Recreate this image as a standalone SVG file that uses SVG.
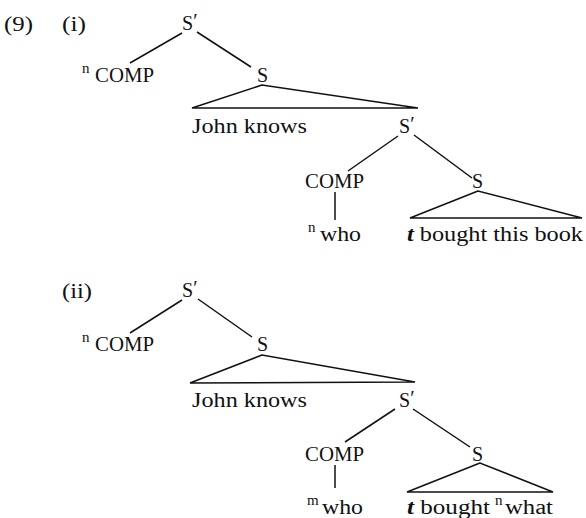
<svg xmlns="http://www.w3.org/2000/svg" width="586" height="518" viewBox="0 0 586 518">
<style>
text{font-family:"Liberation Serif","DejaVu Serif",serif;font-size:20px;fill:#111}
.sup{font-size:15px}
.edges line,.edges polygon{stroke:#111;stroke-width:1.5;fill:none;stroke-linejoin:miter}
</style>
<rect width="586" height="518" fill="#fff"/>
<g id="labels">
<text x="4" y="31" textLength="29" lengthAdjust="spacingAndGlyphs">(9)</text>
<text x="62" y="31" textLength="24" lengthAdjust="spacingAndGlyphs">(i)</text>
<text x="62" y="298" textLength="30" lengthAdjust="spacingAndGlyphs">(ii)</text>
</g>
<g class="edges" id="connectors">
<line x1="182" y1="33" x2="130" y2="63"/>
<line x1="197" y1="32" x2="251" y2="67"/>
<polygon points="262,85 192,108 418,108"/>
<line x1="398" y1="136" x2="348" y2="171"/>
<line x1="414" y1="135" x2="472" y2="178"/>
<line x1="335" y1="192" x2="335" y2="220"/>
<polygon points="478,191 410,218 582,218"/>
<line x1="182" y1="300" x2="130" y2="333"/>
<line x1="198" y1="299" x2="252" y2="337"/>
<polygon points="262,355 190,383 415,382"/>
<line x1="395" y1="409" x2="345" y2="442"/>
<line x1="413" y1="409" x2="470" y2="447"/>
<line x1="335" y1="465" x2="335" y2="488"/>
<polygon points="480,463 407,492 553,492"/>
</g>
<g id="t1-Sbar"><text x="182" y="30">S<tspan dy="-2">′</tspan></text></g>
<g id="t1-COMP"><text class="sup" x="82" y="73">n</text><text x="95" y="82" textLength="59" lengthAdjust="spacingAndGlyphs">COMP</text></g>
<g id="t1-S"><text x="257" y="82">S</text></g>
<g id="t1-John"><text x="192" y="133" textLength="115" lengthAdjust="spacingAndGlyphs">John knows</text></g>
<g id="t1-Sbar2"><text x="399" y="133">S<tspan dy="-2">′</tspan></text></g>
<g id="t1-COMP2"><text x="305" y="188" textLength="59" lengthAdjust="spacingAndGlyphs">COMP</text></g>
<g id="t1-S2"><text x="472" y="188">S</text></g>
<g id="t1-who"><text class="sup" x="308" y="232">n</text><text x="320" y="241" textLength="41" lengthAdjust="spacingAndGlyphs">who</text></g>
<g id="t1-bought"><text x="407" y="241" textLength="176" lengthAdjust="spacingAndGlyphs"><tspan font-style="italic" font-weight="bold">t</tspan> bought this book</text></g>
<g id="t2-Sbar"><text x="182" y="297">S<tspan dy="-2">′</tspan></text></g>
<g id="t2-COMP"><text class="sup" x="82" y="342">n</text><text x="95" y="351" textLength="59" lengthAdjust="spacingAndGlyphs">COMP</text></g>
<g id="t2-S"><text x="257" y="351">S</text></g>
<g id="t2-John"><text x="192" y="407" textLength="115" lengthAdjust="spacingAndGlyphs">John knows</text></g>
<g id="t2-Sbar2"><text x="399" y="407">S<tspan dy="-2">′</tspan></text></g>
<g id="t2-COMP2"><text x="305" y="461" textLength="59" lengthAdjust="spacingAndGlyphs">COMP</text></g>
<g id="t2-S2"><text x="472" y="461">S</text></g>
<g id="t2-who"><text class="sup" x="307" y="505">m</text><text x="322" y="514" textLength="41" lengthAdjust="spacingAndGlyphs">who</text></g>
<g id="t2-bought"><text x="407" y="514" textLength="83" lengthAdjust="spacingAndGlyphs"><tspan font-style="italic" font-weight="bold">t</tspan> bought</text><text class="sup" x="495" y="505">n</text><text x="505" y="514" textLength="48" lengthAdjust="spacingAndGlyphs">what</text></g>
</svg>
